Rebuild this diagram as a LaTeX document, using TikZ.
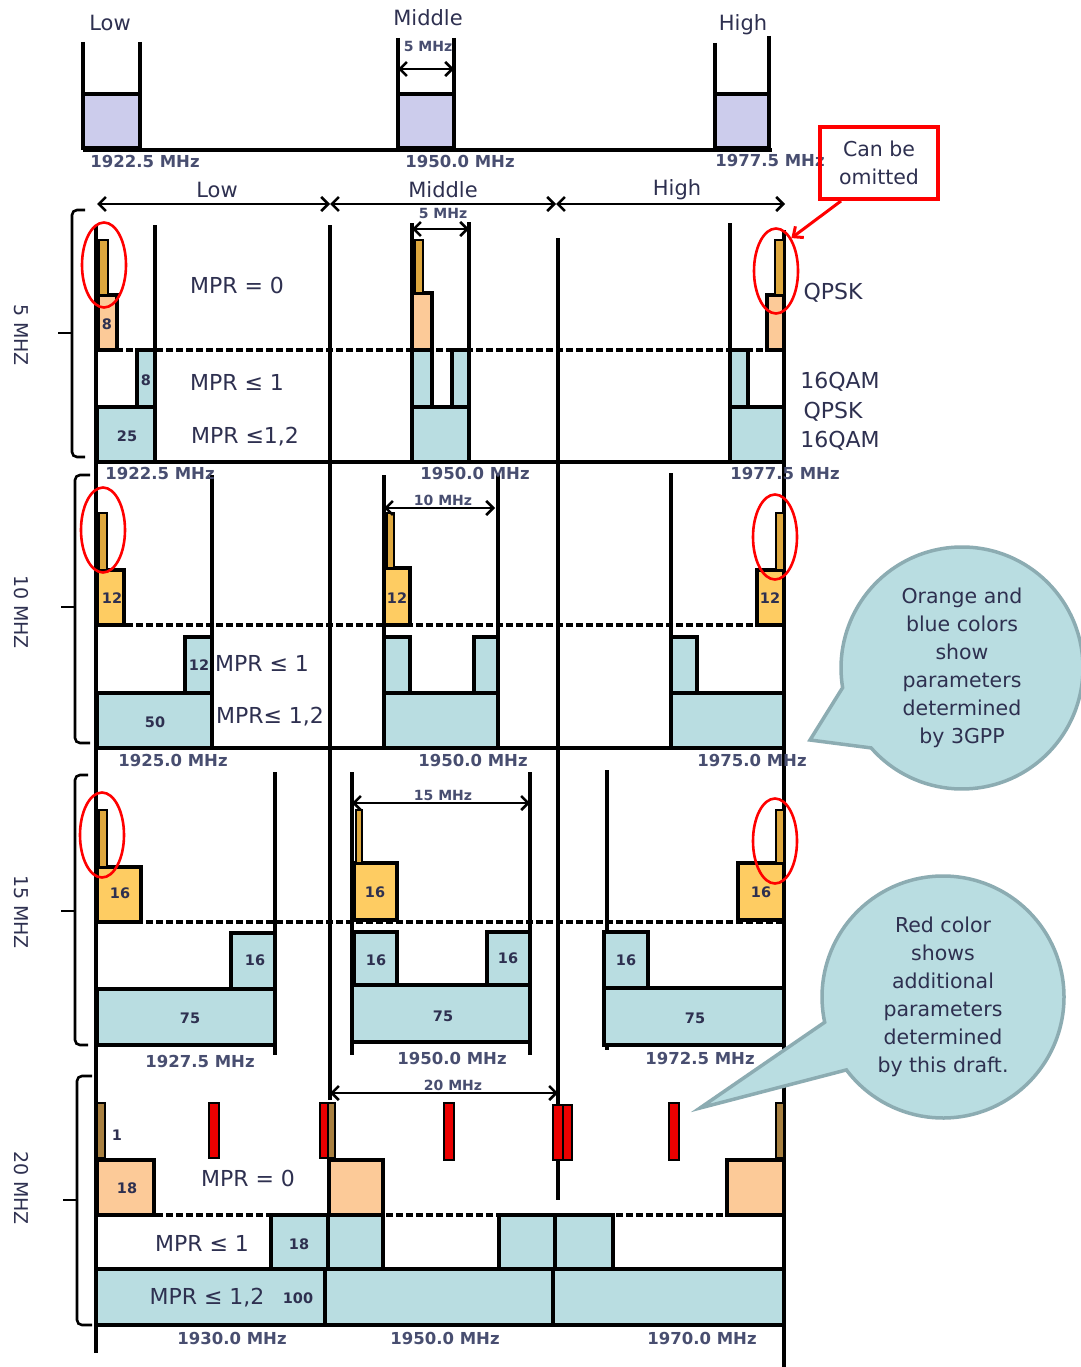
\documentclass[tikz,border=0pt]{standalone}
\usepackage{fontspec}
\setmainfont{DejaVu Sans}
\usetikzlibrary{arrows.meta,shapes.geometric,shapes.callouts}
\definecolor{ink}{RGB}{46,48,80}
\definecolor{fqc}{RGB}{72,78,112}
\definecolor{lav}{RGB}{204,204,236}
\definecolor{peach}{RGB}{252,202,152}
\definecolor{gold}{RGB}{254,204,98}
\definecolor{bluec}{RGB}{185,221,225}
\definecolor{rod}{RGB}{222,168,62}
\definecolor{brn}{RGB}{168,128,64}
\definecolor{bub}{RGB}{185,221,225}
\definecolor{bubl}{RGB}{140,172,178}
\begin{document}
\begin{tikzpicture}[x=1pt,y=-1pt,line width=3.2pt,
  boxB/.style={draw,fill=bluec},
  boxP/.style={draw,fill=peach},
  boxG/.style={draw,fill=gold},
  thinbar/.style={draw,line width=2.6pt,fill=rod},
  brnbar/.style={draw,line width=2.6pt,fill=brn},
  redbar/.style={draw,line width=2.6pt,fill=red!92!black},
  hdr/.style={text=ink,font=\fontsize{21}{24}\selectfont},
  lab/.style={text=ink,font=\fontsize{22}{24}\selectfont},
  freq/.style={text=fqc,font=\fontsize{16.5}{18}\selectfont\bfseries},
  bwlab/.style={text=fqc,font=\fontsize{14}{16}\selectfont\bfseries},
  num/.style={text=ink,font=\fontsize{14.5}{16}\selectfont\bfseries},
  rot/.style={text=ink,rotate=-90,font=\fontsize{19}{22}\selectfont},
  oval/.style={ellipse,draw=red,line width=2.6pt,minimum width=44pt,minimum height=85pt,inner sep=0pt},
  dbl/.style={{Straight Barb[length=7pt,width=14pt]}-{Straight Barb[length=7pt,width=14pt]},line width=2.6pt},
  dashline/.style={dash pattern=on 7pt off 3pt,line width=3.4pt},
  note/.style={ellipse callout,draw=bubl,fill=bub,line width=3.5pt,minimum width=242pt,minimum height=242pt,
    inner sep=0pt,align=center,text=ink,font=\fontsize{20.5}{28}\selectfont}
]
\path[use as bounding box,fill=white] (0,0) rectangle (1080,1367);

\node[hdr] (lowT) at (110,23) {Low};
\node[hdr] (midT) at (428,18) {Middle};
\node[hdr] (highT) at (743,25) {High};
\foreach \a/\b/\p/\q in {83/140/42/42,398/454/38/38,715/769/43/36} {
  \draw[fill=lav] (\a,94) rectangle (\b,148);
  \draw (\a,\p) -- (\a,150); \draw (\b,\q) -- (\b,150);
}
\draw[line width=4.5pt] (83,150) -- (772,150);
\draw[dbl] (398,69) -- (454,69);
\node[bwlab] (bwT) at (428,46) {5 MHz};
\node[freq] (fT1) at (145,161) {1922.5 MHz};
\node[freq] (fT2) at (460,161) {1950.0 MHz};
\node[freq] (fT3) at (770,161) {1977.5 MHz};

\node[draw=red,line width=4pt,minimum width=118pt,minimum height=72pt,align=center,text=ink,
  font=\fontsize{20.5}{28}\selectfont] (omit) at (879,163) {Can be\\omitted};

\draw[dbl] (97,204) -- (330,204);
\draw[dbl] (330,204) -- (556,204);
\draw[dbl] (556,204) -- (785,204);
\node[hdr] (low5) at (217,190) {Low};
\node[hdr] (mid5) at (443,190) {Middle};
\node[hdr] (high5) at (677,190) {High};

\draw (96,225) -- (96,1353);
\draw (784,230) -- (784,1367);
\draw (330,225) -- (330,1100);
\draw (558,238) -- (558,1200);
\foreach \x/\p/\q in {155/225/462,412/223/462,469/222/462,730/223/462,212/475/748,384/475/748,
  498/473/748,671/473/748,275/772/1055,352/772/1055,530/772/1055,607/770/1050}
  \draw (\x,\p) -- (\x,\q);
\draw (96,462) -- (784,462);
\draw (96,748) -- (784,748);

\foreach \a/\b/\c/\d in {137/350/155/407,97/407/155/462,412/350/432/407,452/350/469/407,412/407/469/462,
  730/350/748/407,730/407/784/462,185/637/212/693,97/693/212/748,384/637/410/693,474/637/498/693,
  384/693/498/748,671/637/697/693,671/693/784/748,231/933/275/989,97/989/275/1045,354/932/397/985,
  487/932/530/985,352/985/530/1042,604/932/648/988,604/988/784/1045,271/1215/328/1269,328/1215/383/1269,
  499/1215/555/1269,555/1215/613/1269,96/1269/325/1325,325/1269/553/1325,553/1269/784/1325}
  \draw[boxB] (\a,\b) rectangle (\c,\d);
\foreach \a/\b/\c/\d in {98/295/117/350,412/293/432/350,767/295/784/350,97/1160/154/1215,
  329/1160/383/1215,727/1160/784/1215}
  \draw[boxP] (\a,\b) rectangle (\c,\d);
\foreach \a/\b/\c/\d in {97/570/124/625,384/568/410/625,757/570/784/625,97/867/141/922,
  354/863/397/920,738/863/784/920}
  \draw[boxG] (\a,\b) rectangle (\c,\d);
\foreach \a/\b/\c/\d in {99/240/108/295,415/240/423/293,775/240/784/295,99/513/107/570,387/513/394/568,
  776/513/784/570,99/810/107/867,356/810/362/863,776/810/784/863}
  \draw[thinbar] (\a,\b) rectangle (\c,\d);
\foreach \a/\b/\c/\d in {97/1103/105/1158,328/1103/335/1158,776/1103/784/1158}
  \draw[brnbar] (\a,\b) rectangle (\c,\d);
\foreach \a/\b/\c/\d in {209/1103/219/1158,320/1103/328/1158,444/1103/454/1160,553/1105/563/1160,
  563/1105/572/1160,669/1103/679/1160}
  \draw[redbar] (\a,\b) rectangle (\c,\d);
\foreach \y in {350,625,922,1215} \draw[dashline] (96,\y) -- (786,\y);

\foreach \t/\x/\y [count=\i] in {8/107/324,8/146/380,25/127/436,12/112/598,12/199/665,50/155/722,
  12/397/598,12/770/598,16/120/893,16/255/960,75/190/1018,16/375/892,16/376/960,16/508/958,75/443/1016,
  16/761/892,16/626/960,75/695/1018,1/117/1135,18/127/1188,18/299/1244,100/298/1298}
  \node[num] (n\i) at (\x,\y) {\t};
\foreach \t/\x/\y [count=\i] in {{MPR = 0}/237/285,{MPR ≤ 1}/237/382,{MPR ≤1,2}/245/437,
  {MPR ≤ 1}/262/663,{MPR≤ 1,2}/270/717,{MPR = 0}/248/1178,{MPR ≤ 1}/202/1243,{MPR ≤ 1,2}/207/1298}
  \node[lab] (mpr\i) at (\x,\y) {\t};
\foreach \t/\x/\y [count=\i] in {QPSK/833/293,16QAM/840/382,QPSK/833/412,16QAM/840/441}
  \node[lab] (mod\i) at (\x,\y) {\t};
\foreach \t/\x/\y [count=\i] in {1922.5/160/473,1950.0/475/473,1977.5/785/473,1925.0/173/760,
  1950.0/473/760,1975.0/752/760,1927.5/200/1061,1950.0/452/1058,1972.5/700/1058,1930.0/232/1338,
  1950.0/445/1338,1970.0/702/1338}
  \node[freq] (f\i) at (\x,\y) {\t{} MHz};

\foreach \t/\b/\m/\x/\r in {210/457/333/72/85,475/743/607/75/90,775/1045/911/75/88,1076/1325/1200/77/92} {
  \draw[line width=2.6pt,rounded corners=5pt] (\r,\t) -- (\x,\t) -- (\x,\b) -- (\r,\b);
  \draw[line width=2.6pt] (\x,\m) -- (\x-14,\m);
}
\foreach \s/\y [count=\i] in {5/335,10/612,15/912,20/1188}
  \node[rot] (bw\i) at (21,\y) {\s{} MHZ};

\draw[dbl] (412,229) -- (469,229);
\node[bwlab] (w5) at (443,213) {5 MHz};
\draw[dbl] (384,508) -- (495,508);
\node[bwlab] (w10) at (443,500) {10 MHz};
\draw[dbl] (352,803) -- (530,803);
\node[bwlab] (w15) at (443,795) {15 MHz};
\draw[dbl] (330,1093) -- (558,1093);
\node[bwlab] (w20) at (453,1085) {20 MHz};

\node[oval] (ovL5) at (104,265) {};
\node[oval] (ovH5) at (776,271) {};
\node[oval] (ovL10) at (103,530) {};
\node[oval] (ovH10) at (775,537) {};
\node[oval] (ovL15) at (102,835) {};
\node[oval] (ovH15) at (775,841) {};
\draw[red,line width=3pt,-{Straight Barb[length=8pt,width=14pt]}] (omit.225) -- (ovH5.65);

\node[note,callout absolute pointer={(810,740)},callout pointer arc=32] (note3g) at (962,668)
  {Orange and\\blue colors\\show\\parameters\\determined\\by 3GPP};
\node[note,callout absolute pointer={(700,1108)},callout pointer arc=25] (notedr) at (943,997)
  {Red color\\shows\\additional\\parameters\\determined\\by this draft.};
\end{tikzpicture}
\end{document}
